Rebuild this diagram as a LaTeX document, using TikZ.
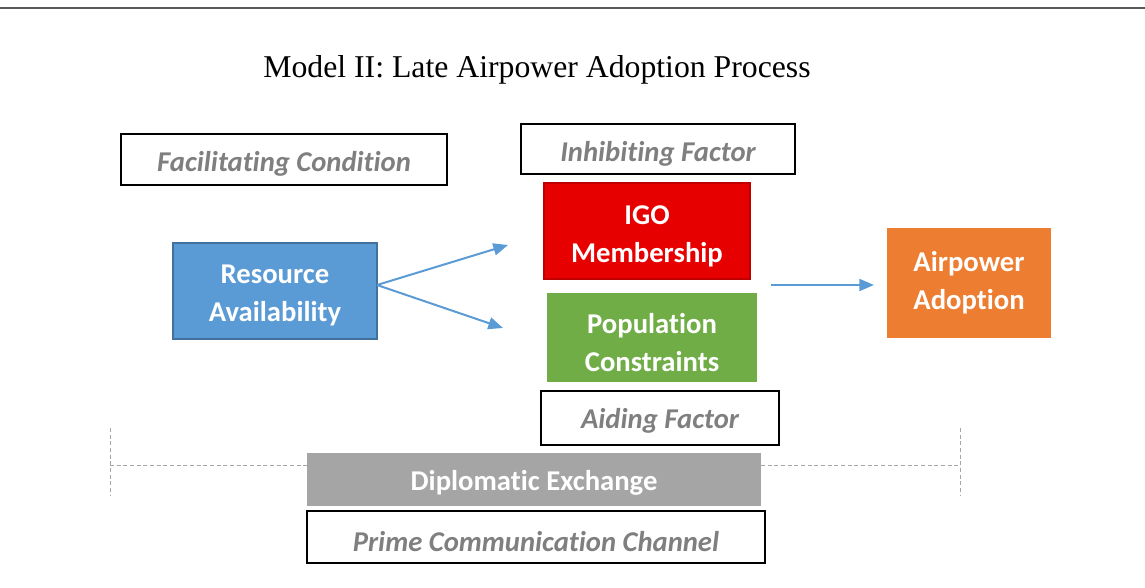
\documentclass[tikz,border=0pt]{standalone}
\usepackage{fontspec}
\setmainfont[Ligatures={NoCommon}]{Carlito}
\newfontfamily\titlefont{Liberation Serif}
\usetikzlibrary{arrows.meta}
\definecolor{labelgray}{HTML}{7F7F7F}
\definecolor{rulegray}{HTML}{595959}
\definecolor{resblue}{HTML}{5B9BD5}
\definecolor{resblueedge}{HTML}{41719C}
\definecolor{igored}{HTML}{E60000}
\definecolor{igorededge}{HTML}{C00000}
\definecolor{popgreen}{HTML}{70AD47}
\definecolor{adoptorange}{HTML}{ED7D31}
\definecolor{diplogray}{HTML}{A5A5A5}
\definecolor{dashgray}{HTML}{A6A6A6}
\tikzset{
  px/.style={x=0.75pt,y=-0.75pt},
  labelbox/.style={draw=black, line width=0.9pt, fill=white, inner sep=0pt,
    font=\fontsize{21.5}{26}\selectfont\bfseries\itshape, text=labelgray},
  factorbox/.style={inner sep=0pt, align=center, text=white,
    font=\fontsize{21.5}{28.5}\selectfont\bfseries},
  flow/.style={draw=resblue, line width=1.5pt, -{Triangle[length=11pt,width=9pt]}},
  guide/.style={draw=dashgray, line width=0.6pt, dash pattern=on 3pt off 2pt}
}
\begin{document}
\begin{tikzpicture}[px]
\useasboundingbox (0,0) rectangle (1145,588);
% rule across the top
\draw[rulegray, line width=1.6pt] (0,8) -- (1145,8);
% title
\node[font=\titlefont\fontsize{23.8}{28}\selectfont] (title) at (537,70) {Model II: Late Airpower Adoption Process};

% dashed guides behind the communication channel
\coordinate (gl) at (110,465);
\coordinate (gr) at (960,465);
\draw[guide] (gl) -- (307,465);
\draw[guide] (761,465) -- (gr);
\draw[guide] (110,428) -- (110,496);
\draw[guide] (960,428) -- (960,496);

% caption boxes
\draw[labelbox] (121,134) rectangle (447,185);
\node[labelbox, draw=none, fill=none] (facil) at (284,164) {Facilitating Condition};
\draw[labelbox] (521,124) rectangle (795,174);
\node[labelbox, draw=none, fill=none] (inhib) at (658,154) {Inhibiting Factor};
\draw[labelbox] (541,391) rectangle (779,445);
\node[labelbox, draw=none, fill=none] (aid) at (660,421) {Aiding Factor};
\draw[labelbox] (307,511) rectangle (765,563);
\node[labelbox, draw=none, fill=none] (prime) at (536,542) {Prime Communication Channel};

% factor boxes
\draw[fill=resblue, draw=resblueedge, line width=1.2pt] (173,243) rectangle (377,339);
\node[factorbox] (res) at (275,295) {Resource\\Availability};
\draw[fill=igored, draw=igorededge, line width=0.8pt] (544,183) rectangle (750,279);
\node[factorbox] (igo) at (647,236) {IGO\\Membership};
\fill[popgreen] (547,293) rectangle (757,382);
\node[factorbox] (pop) at (652,343) {Population\\Constraints};
\fill[adoptorange] (887,228) rectangle (1051,338);
\node[factorbox] (adopt) at (969,283) {Airpower\\Adoption};
\fill[diplogray] (307,453) rectangle (761,506);
\node[factorbox] (diplo) at (534,483) {Diplomatic Exchange};

% influence arrows
\coordinate (resout) at (377,285);
\coordinate (toigo) at (508,245);
\coordinate (topop) at (503,328);
\coordinate (midout) at (771,285);
\coordinate (toadopt) at (874,285);
\draw[flow] (resout) -- (toigo);
\draw[flow] (resout) -- (topop);
\draw[flow] (midout) -- (toadopt);
\end{tikzpicture}
\end{document}
